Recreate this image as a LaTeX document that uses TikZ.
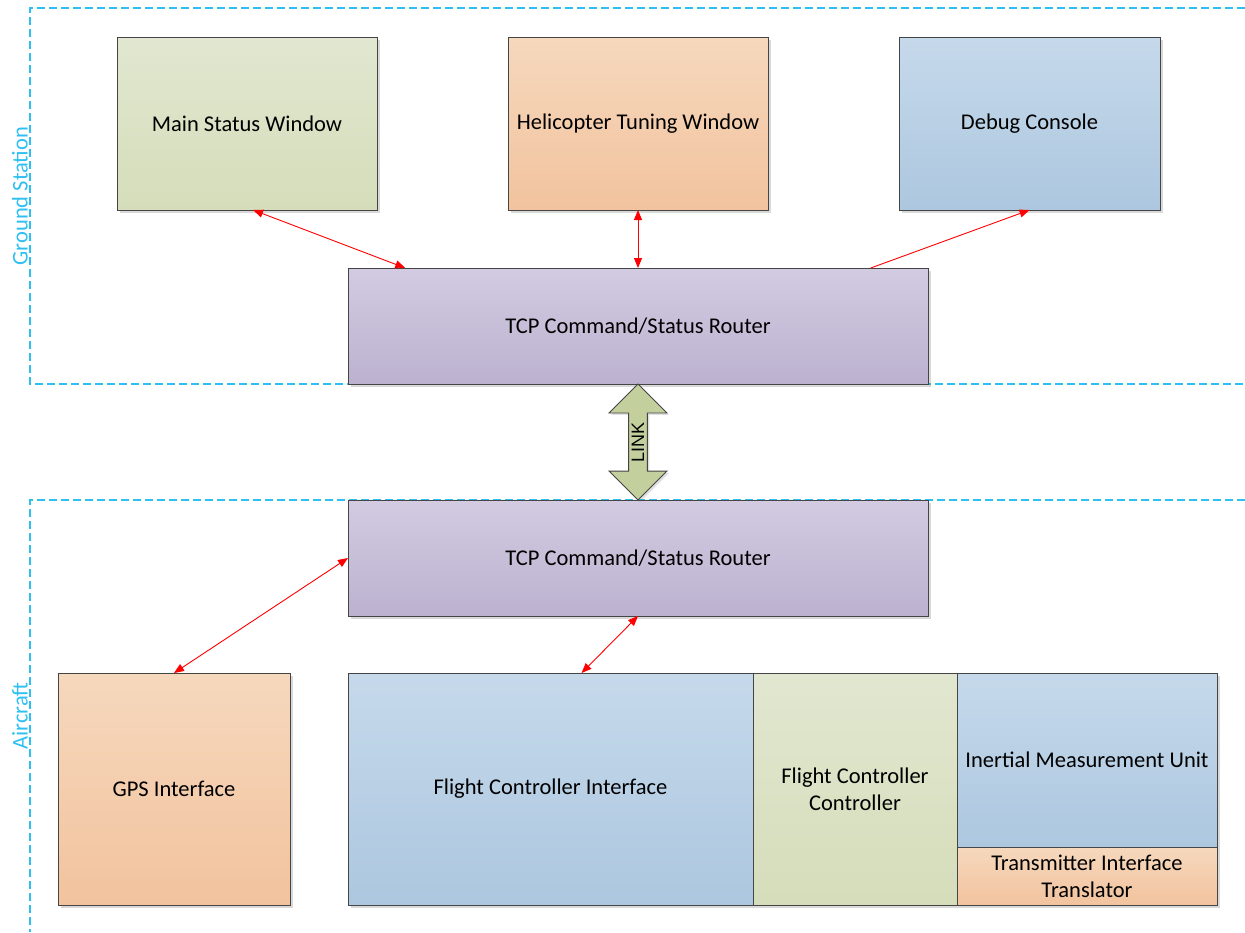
\documentclass[tikz,border=0pt]{standalone}
\usepackage{fontspec}
\setmainfont{Carlito}
\newfontfamily\linkfont{Liberation Sans}
\usepackage{tikz}
\usetikzlibrary{arrows.meta,shapes.arrows,shadows}

\definecolor{boxline}{HTML}{454545}
\definecolor{zonecyan}{HTML}{2EC0F2}
\definecolor{greentop}{HTML}{E1E7D0}
\definecolor{greenbot}{HTML}{D5DDBA}
\definecolor{orangetop}{HTML}{F6D8BD}
\definecolor{orangebot}{HTML}{F2C39E}
\definecolor{bluetop}{HTML}{C6D9EB}
\definecolor{bluebot}{HTML}{ACC7DF}
\definecolor{purpletop}{HTML}{D2CBE1}
\definecolor{purplebot}{HTML}{BCB2D0}
\definecolor{linkgreen}{HTML}{C3CF9C}

\begin{document}
\begin{tikzpicture}[x=1pt,y=-1pt,
    font=\fontsize{22.5}{27}\selectfont,
    block/.style={draw=boxline,line width=1pt,rectangle,align=center,
        inner sep=0pt,outer sep=0pt,
        drop shadow={shadow xshift=2.5pt,shadow yshift=-2.5pt,
            opacity=0.25,fill=black!60}},
    greenblk/.style={block,top color=greentop,bottom color=greenbot},
    orangeblk/.style={block,top color=orangetop,bottom color=orangebot},
    blueblk/.style={block,top color=bluetop,bottom color=bluebot},
    purpleblk/.style={block,top color=purpletop,bottom color=purplebot},
    zone/.style={draw=zonecyan,line width=1.3pt,dash pattern=on 8pt off 4pt},
    zonelabel/.style={text=zonecyan,rotate=90},
    link/.style={red,line width=0.9pt,
        {Triangle[length=10pt,width=8pt]}-{Triangle[length=10pt,width=8pt]}},
    onelink/.style={red,line width=0.9pt,-{Triangle[length=10pt,width=8pt]}}]
    \useasboundingbox (0,0) rectangle (1245,932);

    % Zones.
    \draw[zone] (1245,8) -- (30,8) -- (30,384) -- (1245,384);
    \draw[zone] (1245,500) -- (30,500) -- (30,932);
    \node[zonelabel] (gs-label) at (20,196) {Ground Station};
    \node[zonelabel] (ac-label) at (20,716) {Aircraft};

    % Ground station.
    \node[greenblk,minimum width=260pt,minimum height=173pt] (main)
        at (247,123.5) {Main Status Window};
    \node[orangeblk,minimum width=260pt,minimum height=173pt] (heli)
        at (638,123.5) {Helicopter Tuning Window};
    \node[blueblk,minimum width=261pt,minimum height=173pt] (debug)
        at (1029.5,123.5) {Debug Console};
    \node[purpleblk,minimum width=580pt,minimum height=116pt] (router-gs)
        at (638,326) {TCP Command/Status Router};

    % Aircraft.
    \node[purpleblk,minimum width=580pt,minimum height=116pt] (router-ac)
        at (638,558) {TCP Command/Status Router};
    \node[orangeblk,minimum width=232pt,minimum height=232pt] (gps)
        at (174,789) {GPS Interface};
    \node[blueblk,minimum width=405pt,minimum height=232pt] (fci)
        at (550.5,789) {Flight Controller Interface};
    \node[greenblk,minimum width=204pt,minimum height=232pt] (fcc)
        at (855,789) {Flight Controller\\Controller};
    \node[blueblk,minimum width=260pt,minimum height=174pt] (imu)
        at (1087,760) {Inertial Measurement Unit};
    \node[orangeblk,minimum width=260pt,minimum height=58pt] (tit)
        at (1087,876) {Transmitter Interface\\Translator};

    % Link between the routers.
    \node[double arrow,draw=boxline,line width=0.8pt,fill=linkgreen,
        rotate=90,font=\linkfont\fontsize{18}{20}\selectfont,
        minimum height=116pt,inner xsep=0pt,inner ysep=2.8pt,
        double arrow head extend=19.5pt,double arrow tip angle=90,
        drop shadow={shadow xshift=2pt,shadow yshift=-2pt,
            opacity=0.2,fill=black!60}] (link)
        at (638,442) {LINK};

    % Connectors.
    \draw[link] (main.-86) -- (router-gs.166);
    \draw[link] (heli.south) -- (router-gs.north);
    \draw[onelink] (router-gs.14) -- (debug.south);
    \draw[link] (gps.north) -- (router-ac.west);
    \draw[link] (fci.75) -- (router-ac.south);
\end{tikzpicture}
\end{document}
